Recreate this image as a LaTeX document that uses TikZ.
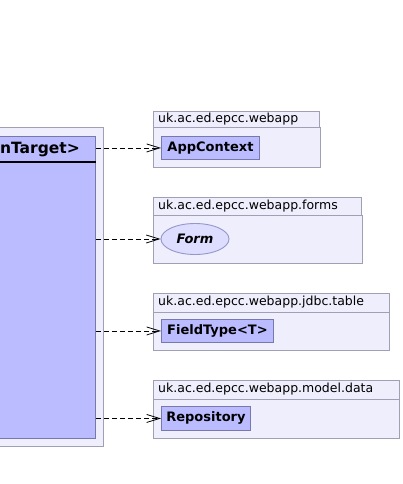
\documentclass[tikz,border=0pt]{standalone}
\usepackage{fontspec}
\setmainfont{DejaVu Sans}
\usetikzlibrary{arrows.meta,shapes.geometric}
\definecolor{pkgfill}{RGB}{238,238,252}
\definecolor{pkgline}{RGB}{160,160,180}
\definecolor{clsfill}{RGB}{187,187,255}
\definecolor{clsline}{RGB}{120,120,170}
\definecolor{ifill}{RGB}{221,221,255}
\definecolor{iline}{RGB}{150,150,200}
\tikzset{
  pkgbox/.style={draw=pkgline, fill=pkgfill, line width=0.9pt},
  pkglabel/.style={anchor=west, inner sep=0pt, font=\fontsize{12.5}{14}\selectfont},
  clsbox/.style={draw=clsline, fill=clsfill, line width=0.9pt, inner sep=0pt,
    font=\fontsize{13}{15}\selectfont\bfseries, anchor=north west},
  ifbox/.style={ellipse, draw=iline, fill=ifill, line width=0.9pt, inner sep=0pt,
    font=\fontsize{13}{15}\selectfont\bfseries\itshape},
  dep/.style={dash pattern=on 5pt off 3pt, line width=0.8pt,
    -{Straight Barb[length=13pt,width=8pt,line width=0.8pt]}}
}
\begin{document}
\begin{tikzpicture}[x=1pt,y=-1pt]
\useasboundingbox (0,0) rectangle (402,484);
\clip (0,0) rectangle (402,484);
\fill[white] (0,0) rectangle (402,484);
% left package and class
\draw[pkgbox] (-20,127) rectangle (103,446);
\node[draw=clsline, fill=clsfill, line width=0.9pt, minimum width=116pt, minimum height=302pt, inner sep=0pt, anchor=north east] (main) at (96,136) {};
\node[anchor=east, inner sep=0pt, font=\fontsize{15.5}{17}\selectfont\bfseries] (mainname) at (80,150) {nTarget>};
\draw[line width=1.8pt] (-20,162) -- (95.5,162);
% package webapp
\draw[pkgbox] (153,127) rectangle (320,167);
\draw[pkgbox] (153,111) rectangle (319,127);
\node[pkglabel] (p1) at (158,119) {uk.ac.ed.epcc.webapp};
\node[clsbox, minimum width=98pt, minimum height=23pt] (ac) at (161,136) {AppContext};
% package forms
\draw[pkgbox] (153,215) rectangle (362,263);
\draw[pkgbox] (153,197) rectangle (361,215);
\node[pkglabel] (p2) at (158,206) {uk.ac.ed.epcc.webapp.forms};
\node[ifbox, minimum width=68pt, minimum height=31pt] (form) at (195,239) {Form};
% package jdbc.table
\draw[pkgbox] (153,312) rectangle (389,350);
\draw[pkgbox] (153,293) rectangle (389,312);
\node[pkglabel] (p3) at (158,302.5) {uk.ac.ed.epcc.webapp.jdbc.table};
\node[clsbox, minimum width=112pt, minimum height=23pt] (ft) at (161,319) {FieldType<T>};
% package model.data
\draw[pkgbox] (153,399) rectangle (399,438);
\draw[pkgbox] (153,380) rectangle (399,399);
\node[pkglabel] (p4) at (158,389.5) {uk.ac.ed.epcc.webapp.model.data};
\node[clsbox, minimum width=89pt, minimum height=24pt] (repo) at (161,406) {Repository};
% dependencies
\draw[dep] (main.east |- ac.west) -- (ac.west);
\draw[dep] (main.east |- form.west) -- (form.west);
\draw[dep] (main.east |- ft.west) -- (ft.west);
\draw[dep] (main.east |- repo.west) -- (repo.west);
\end{tikzpicture}
\end{document}
